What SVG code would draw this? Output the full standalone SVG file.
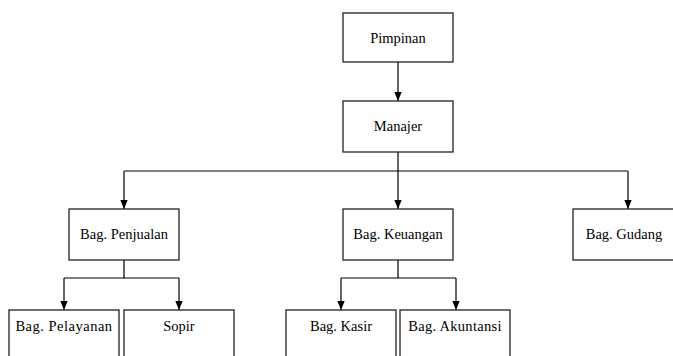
<svg xmlns="http://www.w3.org/2000/svg" width="673" height="356" viewBox="0 0 673 356">
<style>
.box{fill:#fff;stroke:#222;stroke-width:1.3}
text{font-family:'Liberation Serif','Times New Roman',Times,serif;font-size:14.5px;fill:#000;text-anchor:middle}
.ln{fill:none;stroke:#000;stroke-width:1.2}
</style>
<defs>
<marker id="ah" markerWidth="9" markerHeight="11" refX="11" refY="4.5" orient="auto" markerUnits="userSpaceOnUse" viewBox="0 0 11 9">
<path d="M0,0 L11,4.5 L0,9 Z" fill="#000"/>
</marker>
</defs>
<rect width="673" height="356" fill="#fff"/>
<g id="connectors">
<path class="ln" d="M398,62 V101" marker-end="url(#ah)"/>
<path class="ln" d="M398,152 V209" marker-end="url(#ah)"/>
<path class="ln" d="M124,171 H628"/>
<path class="ln" d="M124,171 V209" marker-end="url(#ah)"/>
<path class="ln" d="M628,171 V209" marker-end="url(#ah)"/>
<path class="ln" d="M124,260 V278 M64,278 H179"/>
<path class="ln" d="M64,278 V310" marker-end="url(#ah)"/>
<path class="ln" d="M179,278 V310" marker-end="url(#ah)"/>
<path class="ln" d="M398,260 V278 M341,278 H456"/>
<path class="ln" d="M341,278 V310" marker-end="url(#ah)"/>
<path class="ln" d="M456,278 V310" marker-end="url(#ah)"/>
</g>
<g id="pimpinan"><rect class="box" x="343" y="13" width="110" height="49"/><text x="398" y="42.5">Pimpinan</text></g>
<g id="manajer"><rect class="box" x="343" y="101" width="110" height="51"/><text x="398" y="131">Manajer</text></g>
<g id="penjualan"><rect class="box" x="69" y="209" width="110" height="51"/><text x="124" y="239">Bag. Penjualan</text></g>
<g id="keuangan"><rect class="box" x="343" y="209" width="110" height="51"/><text x="398" y="239">Bag. Keuangan</text></g>
<g id="gudang"><rect class="box" x="573" y="209" width="110" height="51"/><text x="624" y="239">Bag. Gudang</text></g>
<g id="pelayanan"><rect class="box" x="9" y="310" width="110" height="60"/><text x="64" y="331" letter-spacing="0.5">Bag. Pelayanan</text></g>
<g id="sopir"><rect class="box" x="124" y="310" width="110" height="60"/><text x="179" y="331">Sopir</text></g>
<g id="kasir"><rect class="box" x="286" y="310" width="110" height="60"/><text x="341" y="331">Bag. Kasir</text></g>
<g id="akuntansi"><rect class="box" x="400" y="310" width="110" height="60"/><text x="455" y="331" letter-spacing="0.3">Bag. Akuntansi</text></g>
</svg>
